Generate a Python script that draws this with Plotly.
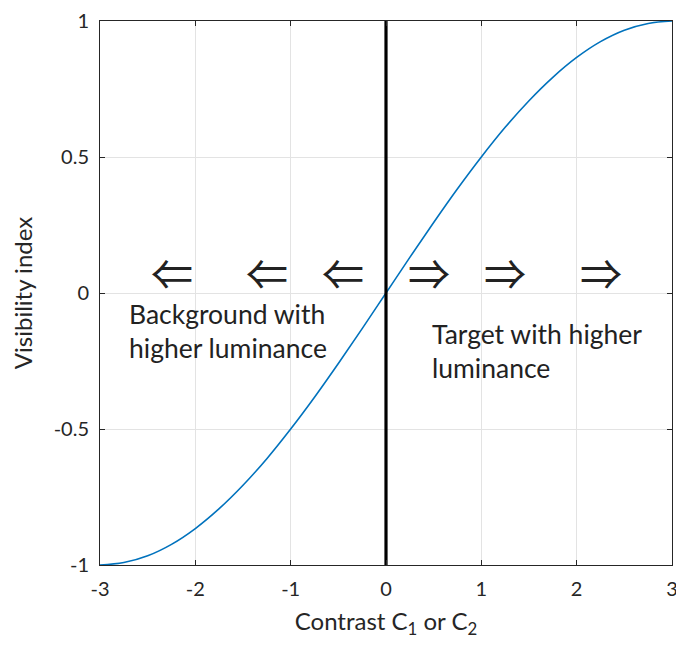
import plotly.graph_objects as go

contrast = [-3, -2.75, -2.5, -2.25, -2, -1.75, -1.5, -1.25, -1, -0.75, -0.5, -0.25,
            0, 0.25, 0.5, 0.75, 1, 1.25, 1.5, 1.75, 2, 2.25, 2.5, 2.75, 3]
visibility = [-1.0, -0.991, -0.966, -0.924, -0.866, -0.793, -0.707, -0.609, -0.5, -0.383, -0.259, -0.131,
              0.0, 0.131, 0.259, 0.383, 0.5, 0.609, 0.707, 0.793, 0.866, 0.924, 0.966, 0.991, 1.0]

x_ticks = [-3, -2, -1, 0, 1, 2, 3]
x_tick_labels = ["-3", "-2", "-1", "0", "1", "2", "3"]
y_ticks = [-1, -0.5, 0, 0.5, 1]
y_tick_labels = ["-1", "-0.5", "0", "0.5", "1"]

arrow_x_left = [-2.25, -1.25, -0.45]
arrow_x_right = [0.45, 1.25, 2.25]
arrow_y = 0.08

FONT = "Lato, 'Open Sans', sans-serif"
ARROW_FONT = "'Noto Sans CJK SC', 'DejaVu Sans', sans-serif"
fig = go.Figure()

fig.add_trace(go.Scatter(x=contrast, y=visibility, mode="lines", line=dict(color="#0072BD", width=1.6, shape="spline"),
                         showlegend=False, hoverinfo="skip"))
fig.add_trace(go.Scatter(x=[0, 0], y=[-1, 1], mode="lines", line=dict(color="black", width=3.2),
                         showlegend=False, hoverinfo="skip"))

for ax in arrow_x_left:
    fig.add_annotation(x=ax, y=arrow_y, text="⇐", showarrow=False, font=dict(family=ARROW_FONT, size=42, color="#222"))
for ax in arrow_x_right:
    fig.add_annotation(x=ax, y=arrow_y, text="⇒", showarrow=False, font=dict(family=ARROW_FONT, size=42, color="#222"))

fig.add_annotation(x=-2.72, y=-0.138, text="Background with<br>higher luminance", showarrow=False, xanchor="left",
                   align="left", font=dict(family=FONT, size=26.5, color="#222"))
fig.add_annotation(x=0.46, y=-0.213, text="Target with higher<br>luminance", showarrow=False, xanchor="left",
                   align="left", font=dict(family=FONT, size=26.5, color="#222"))

fig.update_layout(
    width=684, height=645,
    margin=dict(l=92, r=20, t=13, b=88),
    plot_bgcolor="white", paper_bgcolor="white",
    font=dict(family=FONT, size=20, color="#262626"),
    xaxis=dict(range=[-3, 3], tickvals=x_ticks, ticktext=x_tick_labels, ticks="inside", ticklen=5, tickcolor="#262626",
               showgrid=True, gridcolor="#e3e3e3", gridwidth=1, zeroline=False, automargin=False,
               ticklabeloverflow="allow", ticklabelstandoff=6,
               showline=True, linecolor="#262626", linewidth=1, mirror="ticks",
               title=dict(text="Contrast C<sub>1</sub> or C<sub>2</sub>", font=dict(size=24), standoff=14)),
    yaxis=dict(range=[-1, 1], tickvals=y_ticks, ticktext=y_tick_labels, ticks="inside", ticklen=5, tickcolor="#262626",
               showgrid=True, gridcolor="#e3e3e3", gridwidth=1, zeroline=False, automargin=False,
               ticklabeloverflow="allow", ticklabelstandoff=6,
               showline=True, linecolor="#262626", linewidth=1, mirror="ticks",
               title=dict(text="Visibility index", font=dict(size=24), standoff=16)),
)

fig.write_html("out.html")
